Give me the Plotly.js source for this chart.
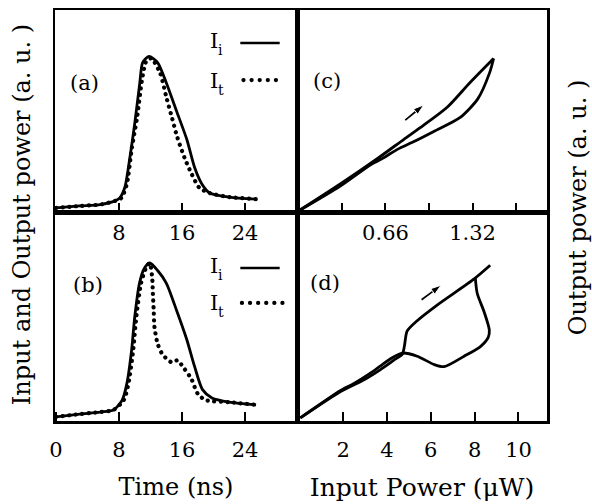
<!DOCTYPE html>
<html>
<head>
<meta charset="utf-8">
<script src="https://cdn.plot.ly/plotly-3.0.1.min.js"></script>
<style>
html,body{margin:0;padding:0;background:#fff;}
path[style*="0.1px"]{stroke-linecap:round !important;}
</style>
</head>
<body>
<div id="chart" style="width:592px;height:504px;"></div>
<script>
// Panel (a): time (ns) vs power (a.u.)
const time_a_in = [0, 3, 5.6, 7.5, 8.1, 8.75, 9.38, 10.0, 10.64, 11.0, 11.8, 12.9, 14.0, 15.3, 16.6, 17.6, 18.5, 19.5, 22.0, 25.4];
const pow_a_in  = [0.02, 0.03, 0.037, 0.055, 0.07, 0.124, 0.27, 0.44, 0.64, 0.74, 0.77, 0.74, 0.64, 0.50, 0.36, 0.22, 0.14, 0.094, 0.074, 0.064];
const time_a_out = [0, 3, 5.6, 7.5, 8.3, 9.0, 9.6, 10.3, 10.9, 11.5, 12.1, 13.2, 14.0, 14.7, 15.4, 16.3, 17.2, 18.2, 19.5, 22.0, 25.4];
const pow_a_out  = [0.02, 0.03, 0.037, 0.055, 0.07, 0.14, 0.31, 0.47, 0.65, 0.75, 0.76, 0.69, 0.57, 0.47, 0.37, 0.27, 0.19, 0.12, 0.094, 0.074, 0.064];

// Panel (b)
const time_b_in = [0, 3, 5.6, 7.3, 8.4, 9.0, 9.6, 10.0, 10.6, 11.2, 11.9, 12.9, 14.0, 15.3, 16.6, 17.6, 18.6, 19.8, 22.0, 25.4];
const pow_b_in  = [0.02, 0.033, 0.043, 0.053, 0.10, 0.18, 0.34, 0.50, 0.66, 0.73, 0.756, 0.72, 0.66, 0.53, 0.39, 0.26, 0.15, 0.11, 0.09, 0.077];
const time_b_out = [0, 3, 5.6, 7.3, 8.6, 9.2, 9.8, 10.2, 10.8, 11.4, 11.9, 12.2, 12.3, 12.4, 12.5, 12.9, 13.5, 14.7, 15.4, 16.3, 17.2, 18.0, 19.0, 22.0, 25.4];
const pow_b_out  = [0.02, 0.033, 0.043, 0.053, 0.10, 0.18, 0.34, 0.50, 0.66, 0.73, 0.756, 0.69, 0.61, 0.53, 0.45, 0.37, 0.32, 0.28, 0.29, 0.25, 0.20, 0.13, 0.10, 0.09, 0.077];

// Panel (c): input power vs output power (hysteresis)
const pin_c_up  = [0, 0.32, 0.60, 0.80, 0.95, 1.13, 1.30, 1.48];
const pout_c_up = [0.005, 0.14, 0.265, 0.36, 0.43, 0.52, 0.64, 0.76];
const pin_c_down  = [1.48, 1.45, 1.36, 1.23, 1.03, 0.88, 0.75, 0.65, 0.55, 0.32, 0];
const pout_c_down = [0.76, 0.69, 0.56, 0.47, 0.40, 0.35, 0.31, 0.27, 0.235, 0.13, 0.005];

// Panel (d)
const pin_d_up  = [0.05, 1.87, 3.0, 3.69, 4.3, 4.7, 4.8, 4.92, 5.38, 6.29, 7.98, 8.71];
const pout_d_up = [0.015, 0.14, 0.20, 0.245, 0.29, 0.32, 0.36, 0.43, 0.48, 0.555, 0.68, 0.745];
const pin_d_down  = [8.03, 8.12, 8.44, 8.67, 8.62, 8.25, 7.52, 6.61, 6.16, 5.38, 4.70, 4.2, 3.4, 2.5, 1.87, 0.05];
const pout_d_down = [0.685, 0.61, 0.52, 0.435, 0.40, 0.355, 0.31, 0.26, 0.27, 0.31, 0.325, 0.30, 0.24, 0.18, 0.145, 0.015];

// Direction arrows (tail, head)
const arrow_c_x = [0.81, 0.95];
const arrow_c_y = [0.455, 0.53];
const arrow_d_x = [5.58, 6.47];
const arrow_d_y = [0.58, 0.65];

// Tick labels
const ticks_time = [0, 8, 16, 24];
const ticks_c = [0.66, 1.32];
const ticktext_c = ["0.66", "1.32"];
const ticks_d = [2, 4, 6, 8, 10];

const FONT = "DejaVu Serif, Liberation Serif, serif";
const solid = {color: "#000", width: 2.8, shape: "spline", smoothing: 0.7};
const DOTS = "0.1px,6.5px";
const dotted = {color: "#000", width: 4.2, dash: DOTS, shape: "spline", smoothing: 0.7};

function arrowTrace(xs, ys, xa, ya) {
  return {x: xs, y: ys, xaxis: xa, yaxis: ya, mode: "lines+markers", line: {color: "#000", width: 1.7},
    marker: {symbol: "arrow", angleref: "previous", size: [0, 11], opacity: [0, 1], color: "#000"}, hoverinfo: "skip"};
}

const traces = [
  {x: time_a_in, y: pow_a_in, xaxis: "x", yaxis: "y", mode: "lines", line: solid, name: "I_i (a)"},
  {x: time_a_out, y: pow_a_out, xaxis: "x", yaxis: "y", mode: "lines", line: dotted, name: "I_t (a)"},
  {x: time_b_in, y: pow_b_in, xaxis: "x3", yaxis: "y3", mode: "lines", line: solid, name: "I_i (b)"},
  {x: time_b_out, y: pow_b_out, xaxis: "x3", yaxis: "y3", mode: "lines", line: dotted, name: "I_t (b)"},
  {x: pin_c_up, y: pout_c_up, xaxis: "x2", yaxis: "y2", mode: "lines", line: solid, name: "(c) up"},
  {x: pin_c_down, y: pout_c_down, xaxis: "x2", yaxis: "y2", mode: "lines", line: solid, name: "(c) down"},
  {x: pin_d_up, y: pout_d_up, xaxis: "x4", yaxis: "y4", mode: "lines", line: solid, name: "(d) up"},
  {x: pin_d_down, y: pout_d_down, xaxis: "x4", yaxis: "y4", mode: "lines", line: solid, name: "(d) down"},
  arrowTrace(arrow_c_x, arrow_c_y, "x2", "y2"),
  arrowTrace(arrow_d_x, arrow_d_y, "x4", "y4")
];

const tickF = {family: FONT, size: 21, color: "#000"};
const axBase = {showline: true, linecolor: "#000", linewidth: 2.5, mirror: true, showgrid: false, zeroline: false,
  ticks: "inside", ticklen: 9, tickwidth: 2, tickcolor: "#000", tickfont: tickF};
const yBase = {showline: true, linecolor: "#000", linewidth: 2.5, mirror: true, showgrid: false, zeroline: false,
  ticks: "", showticklabels: false, range: [0, 1], fixedrange: true};

const split = 0.4919, ysplit = 0.5085;
const titleF = {family: FONT, size: 24, color: "#000"};

const annFont = {family: FONT, size: 21, color: "#000"};
const subFont = {family: FONT, size: 14, color: "#000"};
function lbl(text, xref, yref, x, y, anchor, font) {
  return {text: text, xref: xref, yref: yref, x: x, y: y, showarrow: false, font: font || annFont, xanchor: anchor || "center", yanchor: "middle"};
}

const layout = {
  width: 592, height: 504,
  margin: {l: 55, r: 45, t: 10, b: 83},
  paper_bgcolor: "#fff", plot_bgcolor: "#fff",
  showlegend: false,
  font: {family: FONT, color: "#000"},
  xaxis: Object.assign({}, axBase, {domain: [0, split], anchor: "y", range: [-0.13, 30.6], tickvals: [8, 16, 24], ticktext: ["8", "16", "24"]}),
  yaxis: Object.assign({}, yBase, {domain: [ysplit, 1], anchor: "x"}),
  xaxis2: Object.assign({}, axBase, {domain: [split, 1], anchor: "y2", range: [-0.011, 1.885], tickvals: ticks_c, ticktext: ticktext_c,
    minor: {tick0: 0, dtick: 0.33, ticks: "inside", ticklen: 9, tickwidth: 2, tickcolor: "#000", showgrid: false}}),
  yaxis2: Object.assign({}, yBase, {domain: [ysplit, 1], anchor: "x2"}),
  xaxis3: Object.assign({}, axBase, {domain: [0, split], anchor: "y3", range: [-0.13, 30.6], tickvals: ticks_time, ticktext: ticks_time.map(String),
    ticklabelstandoff: 8, title: {text: "Time (ns)", font: titleF, standoff: 18}}),
  yaxis3: Object.assign({}, yBase, {domain: [0, ysplit], anchor: "x3"}),
  xaxis4: Object.assign({}, axBase, {domain: [split, 1], anchor: "y4", range: [-0.1, 11.3], tickvals: ticks_d, ticktext: ticks_d.map(String),
    ticklabelstandoff: 8, title: {text: "Input Power (μW)", font: {family: FONT, size: 25, color: "#000"}, standoff: 18}}),
  yaxis4: Object.assign({}, yBase, {domain: [0, ysplit], anchor: "x4"}),
  annotations: [
    lbl("(a)", "x", "y", 3.6, 0.64),
    lbl("(b)", "x3", "y3", 4.1, 0.65),
    lbl("(c)", "x2", "y2", 0.216, 0.65),
    lbl("(d)", "x4", "y4", 1.19, 0.66),
    lbl("I", "x", "y", 20.8, 0.845, "right"),
    lbl("i", "x", "y", 20.3, 0.80, "left", subFont),
    lbl("I", "x", "y", 20.8, 0.65, "right"),
    lbl("t", "x", "y", 20.3, 0.605, "left", subFont),
    lbl("I", "x3", "y3", 20.8, 0.74, "right"),
    lbl("i", "x3", "y3", 20.3, 0.697, "left", subFont),
    lbl("I", "x3", "y3", 20.8, 0.565, "right"),
    lbl("t", "x3", "y3", 20.3, 0.522, "left", subFont),
    {text: "Input and Output power (a. u. )", xref: "paper", yref: "paper", x: -0.067, y: 0.501, textangle: -90,
      showarrow: false, font: titleF, xanchor: "center", yanchor: "middle"},
    {text: "Output power (a. u. )", xref: "paper", yref: "paper", x: 1.063, y: 0.52, textangle: -90,
      showarrow: false, font: titleF, xanchor: "center", yanchor: "middle"}
  ],
  shapes: [
    {type: "line", xref: "x", yref: "y", x0: 23.4, x1: 28.4, y0: 0.837, y1: 0.837, line: {color: "#000", width: 2.5}},
    {type: "line", xref: "x", yref: "y", x0: 23.8, x1: 28.6, y0: 0.653, y1: 0.653, line: {color: "#000", width: 4.2, dash: "0.1px,8px"}},
    {type: "line", xref: "x3", yref: "y3", x0: 23.4, x1: 28.4, y0: 0.732, y1: 0.732, line: {color: "#000", width: 2.5}},
    {type: "line", xref: "x3", yref: "y3", x0: 23.6, x1: 28.9, y0: 0.565, y1: 0.565, line: {color: "#000", width: 4.2, dash: "0.1px,8px"}}
  ]
};

Plotly.newPlot("chart", traces, layout, {staticPlot: true, displayModeBar: false}).then(function (gd) {
  // drop empty placeholder text nodes that Plotly leaves for unused titles
  gd.querySelectorAll("text").forEach(function (t) {
    if (!t.textContent.replace(/[\s\u200b]/g, "")) t.remove();
  });
});
</script>
</body>
</html>
